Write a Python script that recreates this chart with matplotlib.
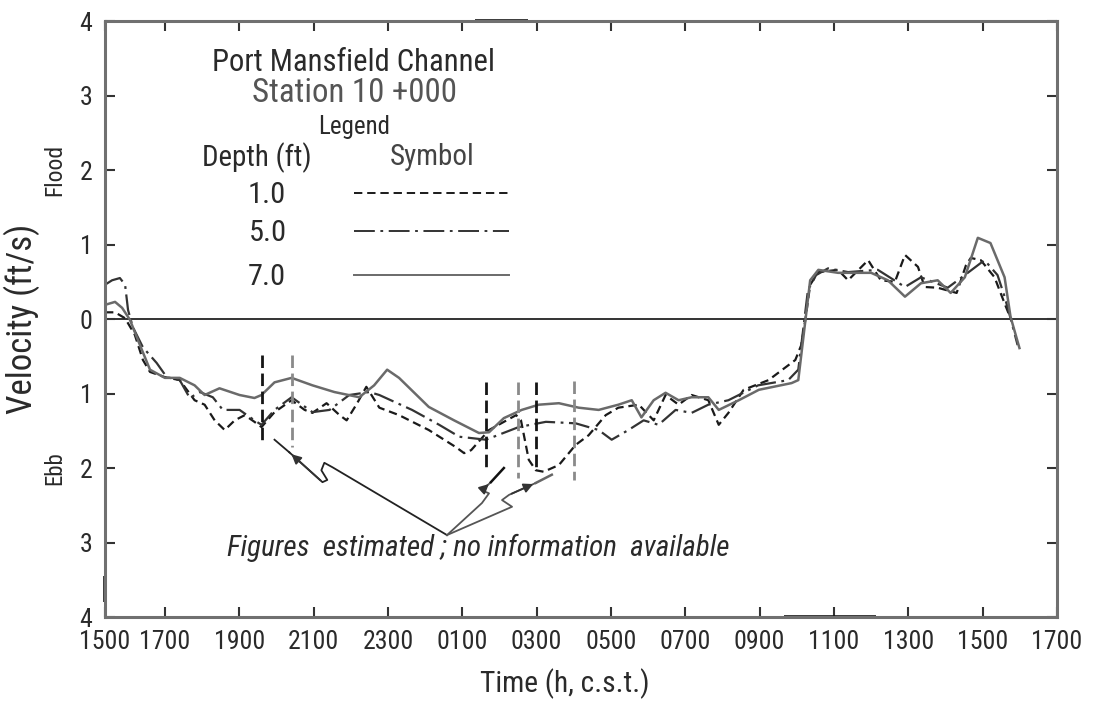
import matplotlib.pyplot as plt

# time in hours after 1500 c.s.t. ; velocity in ft/s (flood +, ebb -)
hrs_1 = [0.39, 0.66, 0.93, 1.19, 1.41, 1.6, 2.0, 2.4, 2.8, 3.07, 3.34, 3.61, 3.88, 4.15, 4.41, 4.6, 4.95, 5.41, 5.76, 5.97,
         6.35, 6.7, 6.89, 7.15, 7.42, 7.77, 8.3, 9.1, 9.83, 10.05, 10.24, 10.72, 11.45, 11.58, 11.79, 11.98, 12.19, 12.6, 13.05, 13.4,
         13.86, 14.2, 14.75, 15.15, 15.47, 15.82, 16.17, 16.62, 16.9, 17.16, 17.57, 18.24, 18.96, 19.12, 19.23, 19.36, 19.58, 20.11, 20.38, 20.92,
         21.26, 21.64, 21.91, 22.26, 22.44, 22.79, 23.3, 23.55, 23.68, 23.95, 24.32, 24.59, 24.75]
vel_1 = [0.09, 0.09, 0.01, -0.21, -0.55, -0.71, -0.78, -0.82, -1.09, -1.15, -1.36, -1.49, -1.36, -1.29, -1.38, -1.45, -1.25, -1.09, -1.22, -1.26,
         -1.13, -1.29, -1.36, -1.15, -0.91, -1.19, -1.29, -1.49, -1.72, -1.8, -1.76, -1.49, -1.29, -1.36, -1.89, -2.03, -2.05, -1.96, -1.69, -1.56,
         -1.29, -1.19, -1.15, -1.36, -1.02, -1.15, -1.02, -1.09, -1.42, -1.26, -0.95, -0.82, -0.55, -0.35, -0.01, 0.46, 0.63, 0.66, 0.52, 0.79,
         0.52, 0.5, 0.86, 0.7, 0.43, 0.42, 0.35, 0.72, 0.82, 0.79, 0.56, 0.21, 0.01]

hrs_5 = [0.39, 0.58, 0.79, 0.93, 1.01, 1.14, 1.41, 1.78, 2.05, 2.4, 2.67, 2.94, 3.29, 3.56, 4.01, 4.41, 4.6, 4.95, 5.41, 5.97,
         6.43, 6.96, 7.5, 7.77, 8.65, 9.38, 9.92, 10.64, 11.52, 12.25, 13.05, 13.67, 14.02, 14.47, 14.88, 15.28, 15.74, 16.17, 16.62, 17.16,
         17.96, 18.77, 19.04, 19.17, 19.3, 19.52, 19.84, 20.38, 21.18, 21.91, 22.34, 23.06, 23.52, 24.05, 24.4, 24.59, 24.75, 24.94]
vel_5 = [0.46, 0.52, 0.55, 0.46, 0.12, -0.11, -0.38, -0.59, -0.78, -0.82, -1.06, -0.98, -1.05, -1.22, -1.22, -1.36, -1.42, -1.22, -1.05, -1.25,
         -1.22, -1.02, -0.98, -1.02, -1.22, -1.42, -1.58, -1.62, -1.45, -1.38, -1.40, -1.49, -1.62, -1.49, -1.36, -1.42, -1.22, -1.26, -1.15, -1.09,
         -0.89, -0.82, -0.68, -0.15, 0.39, 0.59, 0.68, 0.63, 0.66, 0.43, 0.56, 0.42, 0.59, 0.79, 0.59, 0.3, 0.01, -0.35]

hrs_7 = [0.39, 0.66, 0.85, 1.06, 1.33, 1.6, 2.0, 2.4, 2.8, 3.07, 3.47, 4.01, 4.41, 4.6, 4.95, 5.41, 5.97, 6.56, 7.23, 7.63,
         7.98, 8.3, 9.1, 9.78, 10.45, 10.72, 11.12, 11.6, 12.06, 12.6, 13.13, 13.67, 14.2, 14.56, 14.82, 15.15, 15.47, 15.82, 16.17, 16.62,
         16.9, 17.44, 17.98, 18.86, 19.04, 19.2, 19.36, 19.58, 20.11, 21.0, 21.45, 21.91, 22.34, 22.79, 23.14, 23.52, 23.87, 24.21, 24.59, 24.75,
         24.99]
vel_7 = [0.19, 0.23, 0.15, -0.01, -0.35, -0.68, -0.79, -0.79, -0.89, -1.02, -0.93, -1.02, -1.06, -1.02, -0.85, -0.79, -0.89, -0.98, -1.05, -0.89,
         -0.68, -0.79, -1.18, -1.36, -1.53, -1.52, -1.33, -1.22, -1.15, -1.13, -1.19, -1.22, -1.15, -1.09, -1.32, -1.09, -0.99, -1.09, -1.05, -1.05,
         -1.22, -1.09, -0.95, -0.86, -0.82, -0.15, 0.52, 0.66, 0.62, 0.62, 0.52, 0.3, 0.48, 0.52, 0.35, 0.56, 1.09, 1.02, 0.56, 0.03,
         -0.39]

# vertical marks where figures were estimated
gap_hrs = [4.6, 5.41, 10.64, 11.5, 11.99, 13.0]
gap_top = [-0.48, -0.48, -0.85, -0.85, -0.85, -0.83]
gap_bot = [-1.69, -1.72, -2.03, -2.13, -2.03, -2.16]
gap_dark = [True, False, True, False, True, False]

# pointer lines to the note (hours, ft/s)
ptr_a_x = [9.59, 6.51, 6.29, 6.21, 6.37, 6.24, 5.35]
ptr_a_y = [-2.90, -1.99, -1.93, -2.03, -2.16, -2.19, -1.79]
ptr_b_x = [9.59, 10.53, 10.72, 10.53, 10.77]
ptr_b_y = [-2.90, -2.47, -2.34, -2.30, -2.19]
ptr_c_x = [9.59, 11.34, 11.07, 11.26, 11.98]
ptr_c_y = [-2.90, -2.52, -2.43, -2.36, -2.20]

x_ticks = [0.39, 2, 4, 6, 8, 10, 12, 14, 16, 18, 20, 22, 24, 26]
x_labels = ["1500", "1700", "1900", "2100", "2300", "0100", "0300", "0500", "0700", "0900", "1100", "1300", "1500", "1700"]
y_ticks = [4, 3, 2, 1, 0, -1, -2, -3, -4]
y_labels = ["4", "3", "2", "1", "0", "1", "2", "3", "4"]

depths = ["1.0", "5.0", "7.0"]

# narrow lettering if one is installed
plt.rcParams['font.family'] = ['Roboto Condensed', 'Roboto', 'DejaVu Sans']
plt.rcParams['font.stretch'] = 'condensed'
plt.rcParams['lines.scale_dashes'] = False
txt = '#2a2a2a'
spine_c = '#707070'

fig = plt.figure(figsize=(10.95, 7.03), dpi=100)
ax = fig.add_axes([0.0959, 0.1223, 0.8694, 0.8478])
rend = fig.canvas.get_renderer()


def fit(t, px, rot=0):
    # scale a text so it spans about px pixels, like the scanned lettering
    bb = t.get_window_extent(rend)
    t.set_fontsize(t.get_fontsize() * px / bb.width)
    t.set_rotation(rot)
    return t


styles = [dict(color='#1a1a1a', lw=1.6, dashes=(6, 3.5)),
          dict(color='#333333', lw=1.6, dashes=(15, 4, 2, 4)),
          dict(color='#6a6a6a', lw=1.8, linestyle='-')]

ax.axhline(0, color='#111111', lw=1.2, zorder=1)
ax.plot(hrs_1, vel_1, **styles[0])
ax.plot(hrs_5, vel_5, **styles[1])
ax.plot(hrs_7, vel_7, **styles[2])

for h, t, b, d in zip(gap_hrs, gap_top, gap_bot, gap_dark):
    ax.plot([h, h], [t, b], color='#151515' if d else '#8a8a8a', lw=2.0, dashes=(9, 4))

# note and pointers
ax.plot(ptr_a_x, ptr_a_y, color='#222222', lw=1.3)
ax.plot(ptr_b_x, ptr_b_y, color='#555555', lw=1.3)
ax.plot(ptr_c_x, ptr_c_y, color='#555555', lw=1.3)
for px, py in [(ptr_a_x, ptr_a_y), (ptr_b_x, ptr_b_y), (ptr_c_x, ptr_c_y)]:
    ax.annotate('', xy=(px[-1], py[-1]), xytext=(px[-2], py[-2]),
                arrowprops=dict(arrowstyle='-|>', color='#333333', lw=1.3, mutation_scale=14))
ax.plot([5.35, 4.95], [-1.79, -1.62], color='#222222', lw=1.3)
ax.plot([10.77, 11.12], [-2.19, -2.0], color='#111111', lw=1.8)
ax.plot([11.98, 12.41], [-2.20, -2.09], color='#666666', lw=1.8)
fit(ax.text(3.66, -3.07, "Figures  estimated ; no information  available", style='italic',
            fontsize=16, color=txt, ha='left', va='center'), 505)

# title block and legend
fit(ax.text(7.07, 3.44, "Port Mansfield Channel", fontsize=20, color=txt, ha='center', va='center'), 282)
fit(ax.text(7.1, 3.03, "Station 10 +000", fontsize=20, color='#555555', ha='center', va='center'), 204)
fit(ax.text(7.1, 2.58, "Legend", fontsize=16, color=txt, ha='center', va='center'), 72)
dep = fit(ax.text(4.47, 2.17, "Depth (ft)", fontsize=16, color=txt, ha='center', va='center'), 110)
ax.text(9.19, 2.17, "Symbol", fontsize=dep.get_fontsize(), color='#444444', ha='center', va='center')
num = fit(ax.text(4.76, 1.15, depths[1], fontsize=19, color=txt, ha='center', va='center'), 38)
for lab, yy, st in zip(depths, [1.66, 1.15, 0.56], styles):
    if lab != depths[1]:
        ax.text(4.74, yy, lab, fontsize=num.get_fontsize(), color=txt, ha='center', va='center')
    ax.plot([7.1, 11.26], [yy + 0.03, yy + 0.03], **{k: v for k, v in st.items() if k != 'lw'}, lw=1.4)

# tick label size from the width of one scanned label
probe = fit(fig.text(0, 0, "1500", fontsize=16), 51)
tick_fs = probe.get_fontsize()
probe.remove()

ax.set_xlim(0.39, 26)
ax.set_ylim(-4, 4)
ax.set_xticks(x_ticks)
ax.set_xticklabels(x_labels)
ax.set_yticks(y_ticks)
ax.set_yticklabels(y_labels)
ax.tick_params(direction='in', length=7, width=1.5, color='#333333', top=True, right=True,
               labelsize=tick_fs, labelcolor=txt, pad=9)
for s in ax.spines.values():
    s.set_color(spine_c)
    s.set_linewidth(2.2)

# darker bits of the scanned frame
ax.plot([10.34, 11.77], [4, 4], color='#111111', lw=2.6, clip_on=False, solid_capstyle='butt')
ax.plot([18.66, 21.13], [-4, -4], color='#111111', lw=2.6, clip_on=False, solid_capstyle='butt')
ax.plot([0.39, 0.39], [-3.45, -3.8], color='#111111', lw=2.6, clip_on=False, solid_capstyle='butt')

fit(fig.text(0.02, 0.546, "Velocity (ft/s)", fontsize=22, color=txt, ha='center', va='center'), 190, 90)
fit(fig.text(0.05, 0.758, "Flood", fontsize=16, color=txt, ha='center', va='center'), 52, 90)
fit(fig.text(0.05, 0.334, "Ebb", fontsize=16, color=txt, ha='center', va='center'), 34, 90)
fit(fig.text(0.516, 0.028, "Time (h, c.s.t.)", fontsize=20, color=txt, ha='center', va='center'), 170)

fig.savefig("out.png", dpi=100, facecolor='white')
